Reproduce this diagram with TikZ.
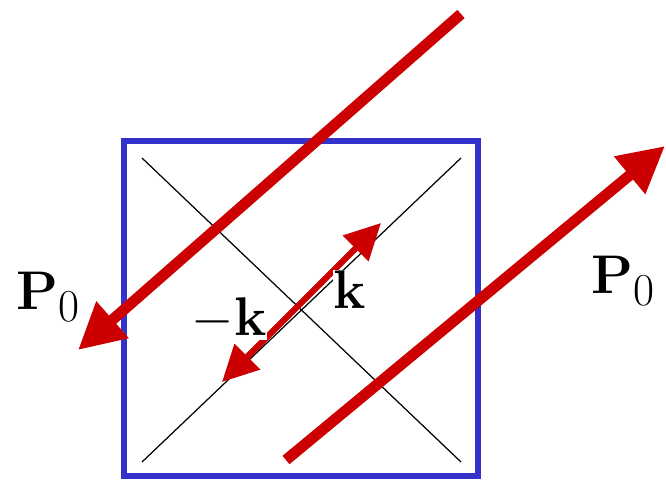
\RequirePackage{fix-cm}
\documentclass[tikz,border=0pt]{standalone}
\usetikzlibrary{arrows.meta}
\definecolor{boxblue}{RGB}{51,51,204}
\definecolor{arrred}{RGB}{204,0,0}
\newcommand{\subz}{\mbox{\fontsize{26}{26}\selectfont 0}}
\tikzset{
  bigarrow/.style={draw=arrred,line width=6.2pt,-{Triangle[length=0.92cm,width=0.92cm]},fill=arrred},
  smallarrow/.style={draw=arrred,line width=3.6pt,{Triangle[length=0.72cm,width=0.7cm]}-{Triangle[length=0.72cm,width=0.7cm]}},
  lbl/.style={font=\fontsize{31}{36}\selectfont,inner sep=1pt},
  diag/.style={draw=black,line width=0.7pt}
}
\begin{document}
\begin{tikzpicture}[x=0.02cm,y=-0.02cm]
\useasboundingbox (0,0) rectangle (666,481);
% square
\draw[boxblue,line width=3.4pt] (124,141) rectangle (478,476);
% diagonals
\coordinate (d1) at (142,158);
\coordinate (d2) at (461,462);
\coordinate (d3) at (461,158);
\coordinate (d4) at (142,462);
\draw[diag] (d1) -- (d2);
\draw[diag] (d3) -- (d4);
% big arrows
\coordinate (a1s) at (461,14);
\coordinate (a1e) at (78,350);
\coordinate (a2s) at (286,460);
\coordinate (a2e) at (665,146);
\draw[bigarrow] (a1s) -- (a1e);
\draw[bigarrow] (a2s) -- (a2e);
% small double arrow
\coordinate (ks) at (222,382);
\coordinate (ke) at (381,223);
\draw[smallarrow] (ks) -- (ke);
% labels
\node[lbl] (p0l) at (48,297) {$\mathbf{P}_{\subz}$};
\node[lbl] (p0r) at (623,281) {$\mathbf{P}_{\subz}$};
\node[lbl,fill=white,anchor=north west,inner sep=0pt] (kp) at (333,270) {$\mathbf{k}$};
\node[lbl,fill=white,anchor=south east,inner sep=0pt] (km) at (267,340) {$-\mathbf{k}$};
\end{tikzpicture}
\end{document}
